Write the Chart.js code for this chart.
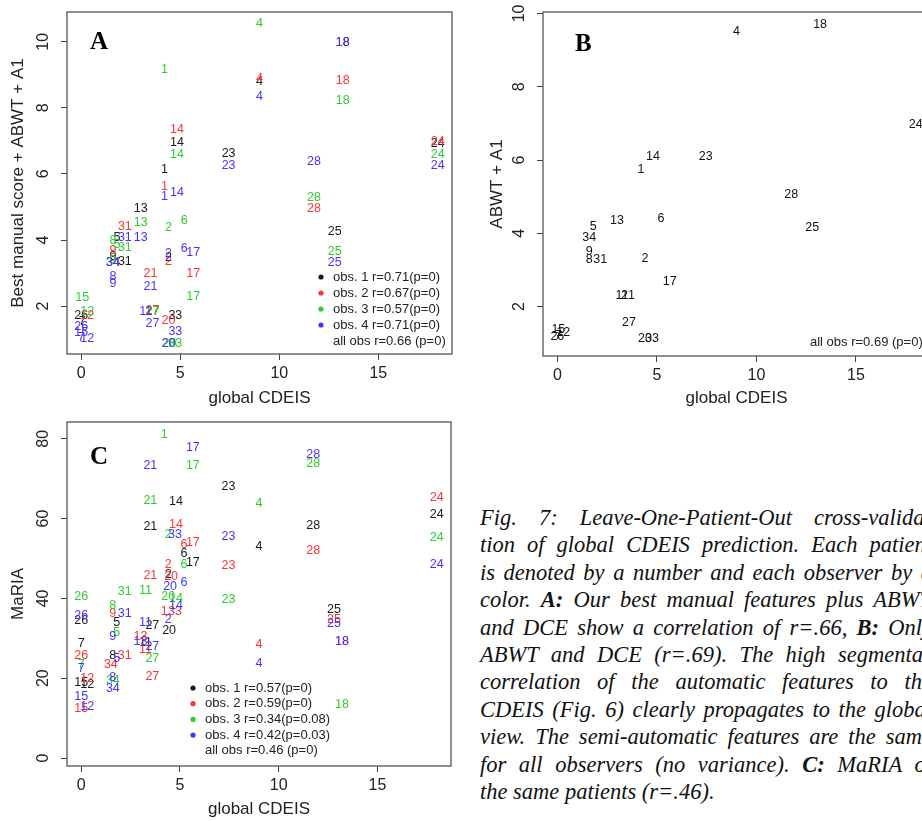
<!DOCTYPE html>
<html>
<head>
<meta charset="utf-8">
<script src="https://cdn.jsdelivr.net/npm/chart.js@4.4.0/dist/chart.umd.min.js"></script>
<style>
  body { margin: 0; width: 922px; height: 821px; overflow: hidden; background: #fff; position: relative; }
  canvas { position: absolute; }
  .panel { position: absolute; font: bold 25px/25px "Liberation Serif", "Times New Roman", serif; color: #000; }
  #caption { position: absolute; left: 480px; top: 504px; font: italic 22.5px/27.4px "Liberation Serif", "Times New Roman", serif; color: #111; }
  #caption div { width: 452px; white-space: nowrap; text-align: justify; text-align-last: justify; }
  #caption div.wide { width: 478px; }
  #caption div.last { text-align-last: left; }
</style>
</head>
<body>
<canvas id="chartA" width="470" height="413" style="left:0;top:0"></canvas>
<canvas id="chartB" width="470" height="413" style="left:470px;top:0"></canvas>
<canvas id="chartC" width="470" height="424" style="left:0;top:400px"></canvas>
<div class="panel" style="left:90px;top:28px">A</div>
<div class="panel" style="left:575px;top:30px">B</div>
<div class="panel" style="left:90px;top:443px">C</div>
<div id="caption">
  <div>Fig. 7: Leave-One-Patient-Out cross-valida-</div>
  <div>tion of global CDEIS prediction. Each patient</div>
  <div>is denoted by a number and each observer by a</div>
  <div>color. <b>A:</b> Our best manual features plus ABWT</div>
  <div>and DCE show a correlation of r=.66, <b>B:</b> Only</div>
  <div class="wide">ABWT and DCE (r=.69). The high segmentation</div>
  <div>correlation of the automatic features to the</div>
  <div>CDEIS (Fig. 6) clearly propagates to the global</div>
  <div>view. The semi-automatic features are the same</div>
  <div>for all observers (no variance). <b>C:</b> MaRIA of</div>
  <div class="last">the same patients (r=.46).</div>
</div>
<script>
// ticks
const xTicks = [0, 5, 10, 15];
const abTicksY = [2, 4, 6, 8, 10];
const cTicksY = [0, 20, 40, 60, 80];
const obsColors = ['#1a1a1a', '#ff3333', '#2fcc2f', '#4433ff'];

// panel A: [patient, global CDEIS, best manual score + ABWT + A1]
const aObs1 = [[1,4.2,6.12],[4,9.0,8.79],[14,4.83,6.95],[23,7.44,6.63],[18,13.2,9.98],[24,18.0,6.91],[13,3.0,4.96],[31,2.2,3.34],[5,1.8,4.07],[2,4.4,3.47],[25,12.8,4.25],[33,4.75,1.71],[26,0,1.7],[27,3.6,1.83],[34,1.6,3.31],[7,0.05,1.53],[9,1.6,3.5]];
const aObs2 = [[1,4.2,5.62],[4,9.0,8.9],[14,4.83,7.35],[18,13.2,8.83],[24,18.0,6.98],[28,11.75,4.96],[31,2.2,4.4],[9,1.6,3.67],[2,4.4,3.34],[21,3.5,2.97],[17,5.65,2.99],[20,4.4,1.55],[12,0.3,1.7],[27,3.6,1.85]];
const aObs3 = [[1,4.2,9.17],[4,9.0,10.55],[14,4.83,6.6],[18,13.2,8.22],[24,18.0,6.6],[28,11.75,5.29],[25,12.8,3.65],[13,3.0,4.53],[6,5.2,4.59],[2,4.4,4.37],[31,2.2,3.78],[8,1.6,3.98],[5,1.8,3.85],[9,1.6,3.39],[17,5.65,2.28],[15,0.05,2.26],[12,0.3,1.83],[27,3.6,1.83],[33,4.75,0.87],[20,4.45,0.87]];
const aObs4 = [[1,4.2,5.31],[4,9.0,8.34],[14,4.83,5.43],[18,13.2,9.98],[24,18.0,6.25],[23,7.44,6.25],[28,11.75,6.37],[25,12.8,3.31],[13,3.0,4.08],[31,2.2,4.08],[6,5.2,3.75],[17,5.65,3.63],[2,4.4,3.6],[21,3.5,2.58],[34,1.6,3.31],[8,1.6,2.89],[9,1.6,2.68],[11,3.25,1.83],[27,3.6,1.47],[33,4.75,1.22],[20,4.4,0.87],[26,0,1.37],[15,0,1.2],[12,0.3,1.02],[7,0,1.05]];
const aLegend = ['obs. 1 r=0.71(p=0)', 'obs. 2 r=0.67(p=0)', 'obs. 3 r=0.57(p=0)', 'obs. 4 r=0.71(p=0)', 'all obs r=0.66 (p=0)'];

// panel B: [patient, global CDEIS, ABWT + A1] (same for every observer)
const bAll = [[4,9.0,9.5],[18,13.2,9.71],[24,18.0,6.96],[14,4.8,6.09],[23,7.45,6.09],[1,4.2,5.73],[28,11.75,5.05],[13,3.0,4.35],[6,5.2,4.39],[25,12.8,4.16],[5,1.8,4.18],[34,1.6,3.87],[9,1.6,3.5],[8,1.6,3.27],[31,2.15,3.27],[2,4.4,3.32],[17,5.65,2.67],[11,3.25,2.3],[21,3.55,2.3],[27,3.6,1.55],[20,4.4,1.12],[33,4.75,1.12],[15,0.05,1.38],[12,0.3,1.29],[26,0,1.18],[7,0.05,1.2]];
const bLegend = ['all obs r=0.69 (p=0)'];

// panel C: [patient, global CDEIS, MaRIA]
const cObs1 = [[14,4.8,64.2],[21,3.5,58.1],[23,7.45,68.0],[6,5.2,51.3],[17,5.65,49.0],[4,9.0,53.0],[2,4.4,45.9],[28,11.75,58.2],[24,18.0,61.1],[25,12.8,37.3],[27,3.6,33.3],[20,4.45,31.9],[5,1.8,34.0],[26,0,34.4],[7,0,28.7],[8,1.6,25.8],[15,0,18.9],[12,0.3,18.3],[11,3.25,29.0]];
const cObs2 = [[14,4.8,58.4],[17,5.65,54.0],[6,5.2,53.4],[23,7.45,48.2],[2,4.4,48.4],[21,3.5,45.6],[20,4.55,45.4],[24,18.0,65.3],[28,11.75,51.9],[25,12.8,34.6],[4,9.0,28.5],[18,13.2,29.3],[13,3.0,30.4],[1,4.2,36.7],[33,4.75,36.7],[9,1.6,36.2],[31,2.2,25.8],[34,1.5,23.3],[27,3.6,20.5],[26,0,25.6],[12,0.3,20.0],[15,0,12.4],[11,3.25,27.2]];
const cObs3 = [[1,4.2,80.95],[17,5.65,73.3],[21,3.5,64.4],[4,9.0,63.7],[2,4.4,56.1],[6,5.2,48.4],[26,0,40.4],[31,2.2,41.6],[11,3.25,42.0],[23,7.45,39.6],[28,11.75,73.9],[24,18.0,55.2],[18,13.2,13.3],[14,4.8,40.0],[20,4.4,40.5],[8,1.6,38.3],[5,1.8,31.4],[27,3.6,25.0],[7,0,23.5],[34,1.6,19.5]];
const cObs4 = [[17,5.65,77.9],[21,3.5,73.3],[33,4.75,56.1],[23,7.45,55.5],[20,4.5,42.9],[6,5.2,43.9],[28,11.75,76.1],[24,18.0,48.5],[25,12.8,33.8],[18,13.2,29.3],[4,9.0,23.7],[14,4.8,38.1],[2,4.4,34.8],[11,3.25,33.9],[13,3.0,29.1],[27,3.6,27.9],[26,0,35.8],[31,2.2,36.1],[9,1.6,30.4],[5,1.8,25.0],[7,0,22.5],[8,1.6,20.2],[34,1.6,17.5],[15,0,15.5],[12,0.3,12.9]];
const cLegend = ['obs. 1 r=0.57(p=0)', 'obs. 2 r=0.59(p=0)', 'obs. 3 r=0.34(p=0.08)', 'obs. 4 r=0.42(p=0.03)', 'all obs r=0.46 (p=0)'];

const sans = "'Liberation Sans', Arial, sans-serif";

// draws the patient numbers, the box, rotated y labels and the legend
const rPlot = {
  id: 'rplot',
  afterDatasetsDraw(chart, args, o) {
    const ctx = chart.ctx;
    ctx.save();
    ctx.font = '12.5px ' + sans;
    ctx.textAlign = 'center';
    ctx.textBaseline = 'middle';
    chart.data.datasets.forEach((ds, d) => {
      ctx.fillStyle = ds.labelColor;
      chart.getDatasetMeta(d).data.forEach((pt, i) => {
        ctx.fillText(String(ds.data[i].id), pt.x, pt.y);
      });
    });
    ctx.restore();
  },
  afterDraw(chart, args, o) {
    const ctx = chart.ctx;
    const a = chart.chartArea;
    ctx.save();
    ctx.strokeStyle = '#555';
    ctx.lineWidth = 1.3;
    ctx.strokeRect(a.left, a.top, a.right - a.left, a.bottom - a.top);

    // y tick labels, rotated like R
    const ys = chart.scales.y;
    ctx.fillStyle = '#222';
    ctx.font = '16px ' + sans;
    ctx.textAlign = 'center';
    ctx.textBaseline = 'middle';
    ys.ticks.forEach(t => {
      ctx.save();
      ctx.translate(a.left - 23, ys.getPixelForValue(t.value));
      ctx.rotate(-Math.PI / 2);
      ctx.fillText(String(t.value), 0, 0);
      ctx.restore();
    });

    // legend
    const lg = o.legend;
    ctx.font = '13px ' + sans;
    ctx.textAlign = 'left';
    lg.lines.forEach((txt, i) => {
      const y = a.bottom + lg.y0 + i * lg.step;
      if (i < lg.dots) {
        ctx.fillStyle = obsColors[i];
        ctx.beginPath();
        ctx.arc(a.right + lg.dotX, y, 2.6, 0, Math.PI * 2);
        ctx.fill();
      }
      ctx.fillStyle = '#222';
      ctx.fillText(txt, a.right + lg.textX, y);
    });
    ctx.restore();
  }
};

function makeChart(id, series, cfg) {
  return new Chart(document.getElementById(id), {
    type: 'scatter',
    data: {
      datasets: series.map((pts, i) => ({
        data: pts.map(p => ({ x: p[1], y: p[2], id: p[0] })),
        labelColor: cfg.colors[i],
        pointRadius: 0,
        pointHoverRadius: 0
      }))
    },
    options: {
      responsive: false,
      animation: false,
      events: [],
      layout: { padding: cfg.pad },
      plugins: {
        legend: { display: false },
        tooltip: { enabled: false },
        rplot: { legend: cfg.legend }
      },
      scales: {
        x: {
          type: 'linear', min: -0.72, max: 18.72,
          afterBuildTicks: s => { s.ticks = xTicks.map(v => ({ value: v })); },
          afterFit: s => { s.height = cfg.xH; },
          border: { display: false },
          grid: { drawOnChartArea: false, drawTicks: true, tickLength: 6, color: '#444' },
          ticks: { color: '#222', padding: 4, font: { family: sans, size: 16 } },
          title: { display: true, text: 'global CDEIS', color: '#222',
                   font: { family: sans, size: 17 }, padding: { top: 0, bottom: 4 } }
        },
        y: {
          type: 'linear', min: cfg.yMin, max: cfg.yMax,
          afterBuildTicks: s => { s.ticks = cfg.yTicks.map(v => ({ value: v })); },
          afterFit: s => { s.width = cfg.yW; },
          border: { display: false },
          grid: { drawOnChartArea: false, drawTicks: true, tickLength: 6, color: '#444' },
          ticks: { display: false },
          title: { display: true, text: cfg.yTitle, color: '#222',
                   font: { family: sans, size: 17 }, padding: { top: cfg.yTitlePad, bottom: 0 } }
        }
      }
    },
    plugins: [rPlot]
  });
}

makeChart('chartA', [aObs1, aObs2, aObs3, aObs4], {
  colors: obsColors, pad: { left: 0, top: 12, right: 18, bottom: 0 },
  xH: 59, yW: 67, yMin: 0.55, yMax: 10.9, yTicks: abTicksY,
  yTitle: 'Best manual score + ABWT + A1', yTitlePad: 8,
  legend: { lines: aLegend, dots: 4, dotX: -131, textX: -119, y0: -77, step: 16 }
});

makeChart('chartB', [bAll], {
  colors: ['#111'], pad: { left: 0, top: 12, right: 10, bottom: 0 },
  xH: 57, yW: 73, yMin: 0.65, yMax: 10.04, yTicks: abTicksY,
  yTitle: 'ABWT + A1', yTitlePad: 17,
  legend: { lines: bLegend, dots: 0, dotX: 0, textX: -120, y0: -14, step: 16 }
});

makeChart('chartC', [cObs1, cObs2, cObs3, cObs4], {
  colors: obsColors, pad: { left: 0, top: 22, right: 19, bottom: 0 },
  xH: 58, yW: 67, yMin: -2, yMax: 84.2, yTicks: cTicksY,
  yTitle: 'MaRIA', yTitlePad: 8,
  legend: { lines: cLegend, dots: 4, dotX: -258, textX: -246, y0: -78, step: 15.7 }
});
</script>
</body>
</html>
